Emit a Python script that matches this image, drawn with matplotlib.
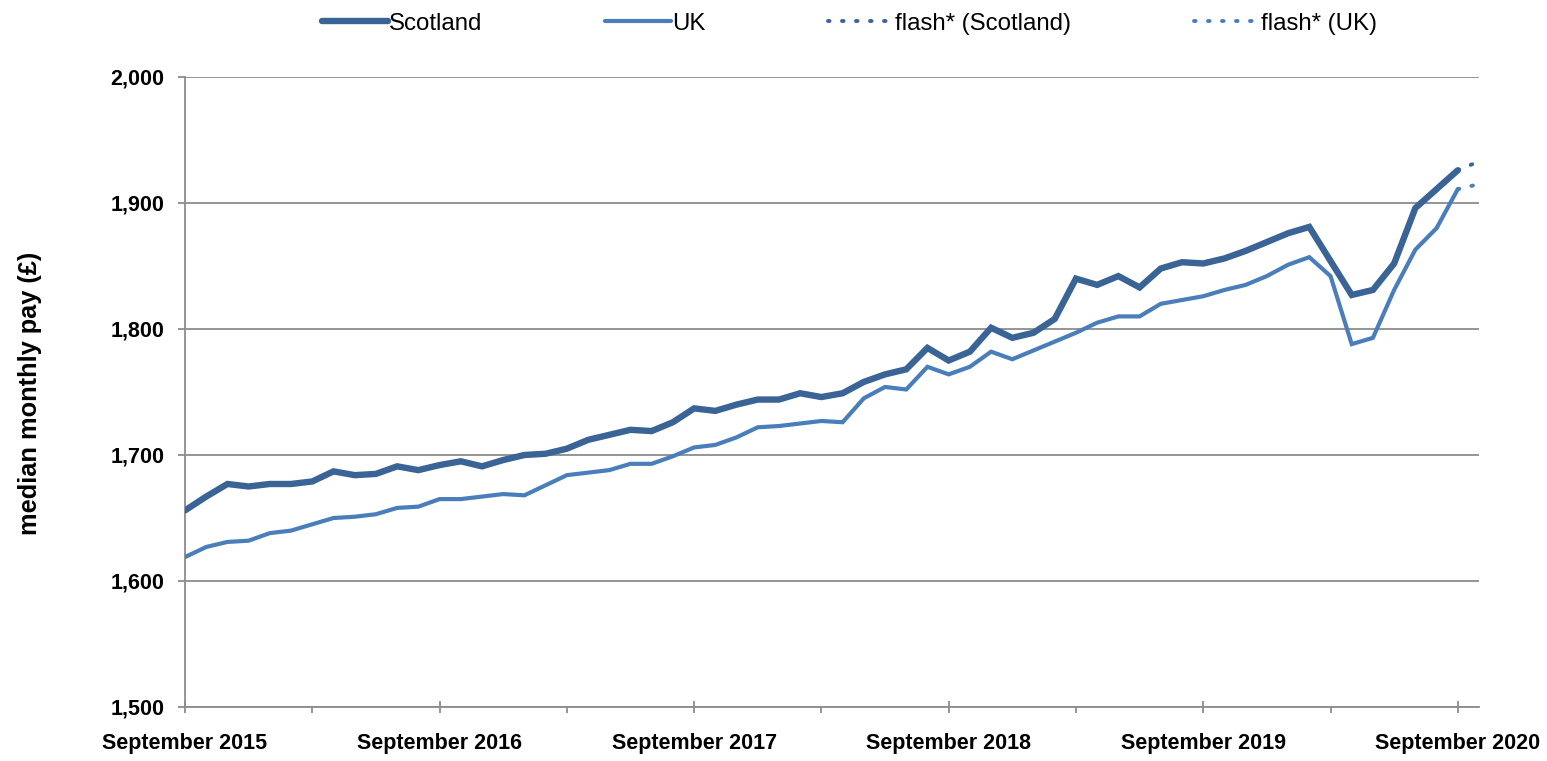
import numpy as np
import matplotlib
matplotlib.use('Agg')
import matplotlib.pyplot as plt
from matplotlib.ticker import MultipleLocator, FuncFormatter

plt.rcParams['font.family'] = ['Liberation Sans', 'DejaVu Sans']

#=== data (monthly, September 2015 = month 0) ===
scotland = [1656, 1667, 1677, 1675, 1677, 1677, 1679, 1687, 1684, 1685,
            1691, 1688, 1692, 1695, 1691, 1696, 1700, 1701, 1705, 1712,
            1716, 1720, 1719, 1726, 1737, 1735, 1740, 1744, 1744, 1749,
            1746, 1749, 1758, 1764, 1768, 1785, 1775, 1782, 1801, 1793,
            1797, 1808, 1840, 1835, 1842, 1833, 1848, 1853, 1852, 1856,
            1862, 1869, 1876, 1881, 1854, 1827, 1831, 1852, 1896, 1911,
            1926]
uk = [1619, 1627, 1631, 1632, 1638, 1640, 1645, 1650, 1651, 1653,
      1658, 1659, 1665, 1665, 1667, 1669, 1668, 1676, 1684, 1686,
      1688, 1693, 1693, 1699, 1706, 1708, 1714, 1722, 1723, 1725,
      1727, 1726, 1745, 1754, 1752, 1770, 1764, 1770, 1782, 1776,
      1783, 1790, 1797, 1805, 1810, 1810, 1820, 1823, 1826, 1831,
      1835, 1842, 1851, 1857, 1842, 1788, 1793, 1831, 1863, 1880,
      1911]
flash_scotland = [1926, 1933]   # September 2020 -> October 2020 (flash)
flash_uk = [1911, 1915]
year_labels = ['September 2015', 'September 2016', 'September 2017',
               'September 2018', 'September 2019', 'September 2020']

c_scot = '#3a6396'
c_uk = '#4a7ebb'
grey = '#8c8c8c'

fig = plt.figure(figsize=(15.47, 7.61), dpi=100)
ax = fig.add_axes([185/1547, 1-707/761, (1479-185)/1547, (707-77)/761])

x = np.arange(len(scotland))
xf = np.arange(len(scotland)-1, len(scotland)+1)
ax.plot(x, scotland, color=c_scot, lw=4.6, solid_joinstyle='miter',
        solid_capstyle='round', label='Scotland', zorder=4)
ax.plot(x, uk, color=c_uk, lw=3.0, solid_joinstyle='miter',
        solid_capstyle='round', label='UK', zorder=3)
ax.plot(xf, flash_scotland, color=c_scot, lw=2.8, ls=(0, (0.4, 3.2)),
        dash_capstyle='round', label='flash* (Scotland)', zorder=4)
ax.plot(xf, flash_uk, color=c_uk, lw=2.8, ls=(0, (0.4, 3.2)),
        dash_capstyle='round', label='flash* (UK)', zorder=3)

ax.set_xlim(0, 61)
ax.set_ylim(1500, 2000)
ax.yaxis.set_major_locator(MultipleLocator(100))
ax.yaxis.set_major_formatter(FuncFormatter(lambda v, p: f'{int(v):,}'))
ax.set_xticks(np.arange(0, 61, 12))
ax.set_xticklabels(year_labels)
ax.set_xticks(np.arange(6, 61, 12), minor=True)

ax.grid(axis='y', color=grey, lw=1.3)
ax.set_axisbelow(True)
for s in ['top', 'right']:
    ax.spines[s].set_visible(False)
for s in ['left', 'bottom']:
    ax.spines[s].set_color(grey)
    ax.spines[s].set_linewidth(1.3)

ax.tick_params(axis='x', which='major', direction='inout', length=9, width=1.3,
               color=grey, pad=14, labelsize=15.5)
ax.tick_params(axis='x', which='minor', direction='out', length=4, width=1.3, color=grey)
ax.tick_params(axis='y', direction='out', length=5, width=1.3, color=grey,
               pad=10, labelsize=15.5)
for lab in ax.get_xticklabels() + ax.get_yticklabels():
    lab.set_fontweight('bold')

fig.text(30/1547, 1-393/761, 'median monthly pay (£)', rotation=90, fontsize=18.3,
         fontweight='bold', ha='center', va='center')

leg = fig.legend(loc='center', bbox_to_anchor=(0.549, 0.969), ncol=4, frameon=False,
                 fontsize=17.3, handlelength=2.75, handletextpad=0.05, columnspacing=5.1)

fig.savefig('out.png', dpi=100)
